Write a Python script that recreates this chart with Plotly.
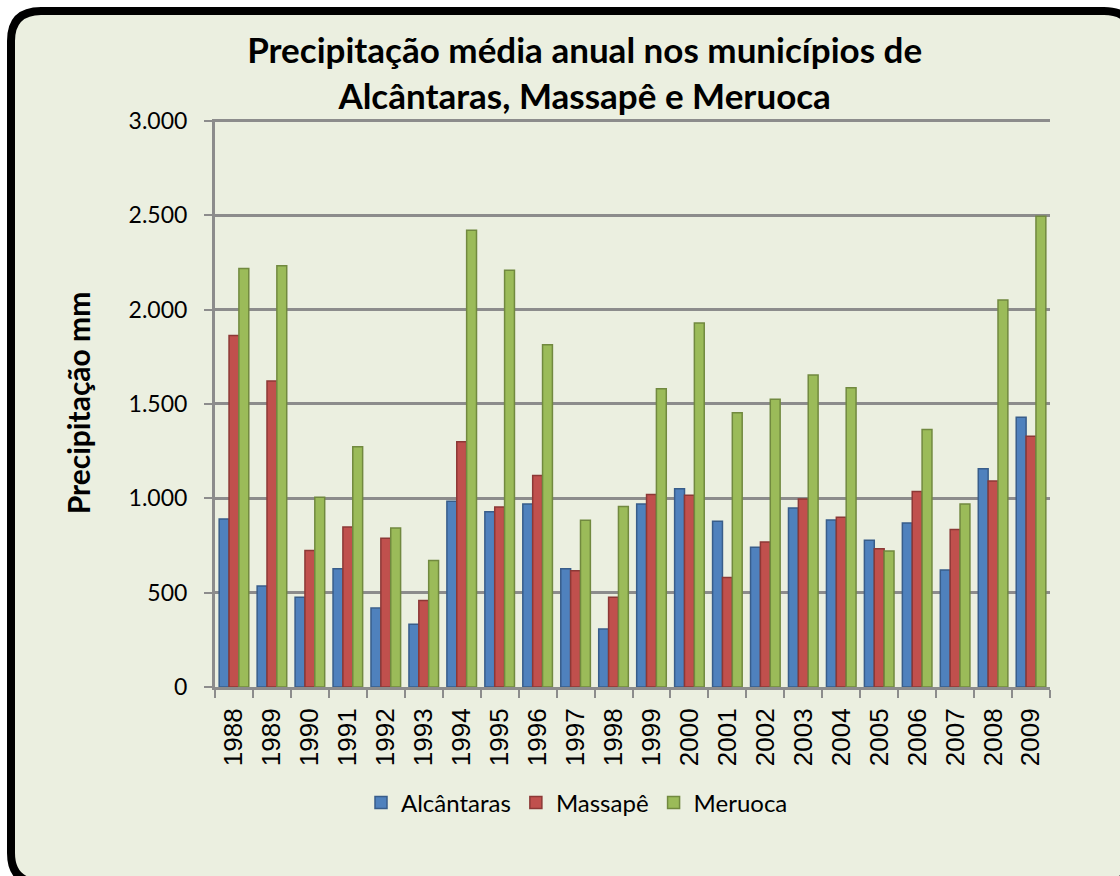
import plotly.graph_objects as go

ANOS = [str(a) for a in range(1988, 2010)]
ALCANTARAS = [890, 535, 475, 626, 418, 333, 984, 929, 970, 626, 307,
              970, 1051, 879, 741, 949, 885, 778, 869, 620, 1156, 1430]
MASSAPE = [1863, 1622, 723, 848, 788, 459, 1299, 954, 1121, 616, 475,
           1020, 1016, 580, 768, 996, 899, 733, 1036, 834, 1091, 1329]
MERUOCA = [2218, 2232, 1006, 1273, 842, 671, 2420, 2208, 1814, 883, 956,
           1580, 1929, 1453, 1525, 1653, 1586, 721, 1364, 970, 2051, 2495]
Y_TICKS = [0, 500, 1000, 1500, 2000, 2500, 3000]

SERIES = [
    ("Alcântaras", ALCANTARAS, "#4F81BD", "#385D8A"),
    ("Massapê", MASSAPE, "#C0504D", "#8C3836"),
    ("Meruoca", MERUOCA, "#9BBB59", "#71893F"),
]

W, H = 1120, 876
L, R, T, B = 215, 70, 119, 189
PW, PH = W - L - R, H - T - B


def px(x):
    return (x - L) / PW


def py(y):
    return (H - B - y) / PH


FONT = "Lato, 'Open Sans', Arial, sans-serif"
GRID = "#8C8C8C"
BG = "#EBEFE0"

fig = go.Figure()
for name, vals, color, edge in SERIES:
    fig.add_trace(go.Bar(
        name=name,
        x=ANOS,
        y=vals,
        marker=dict(color=color, line=dict(color=edge, width=1.5)),
    ))

# moldura arredondada (lados direito/inferior ficam fora da imagem)
x0, x1 = px(11), px(1134)
y0, y1 = py(11), py(883)
rx, ry = 30 / PW, 30 / PH
path = (
    f"M {x0 + rx},{y0} L {x1 - rx},{y0} Q {x1},{y0} {x1},{y0 - ry} "
    f"L {x1},{y1 + ry} Q {x1},{y1} {x1 - rx},{y1} "
    f"L {x0 + rx},{y1} Q {x0},{y1} {x0},{y1 + ry} "
    f"L {x0},{y0 - ry} Q {x0},{y0} {x0 + rx},{y0} Z"
)
fig.add_shape(
    type="path", path=path, xref="paper", yref="paper",
    fillcolor=BG, line=dict(color="black", width=8), layer="below",
)

fig.update_layout(
    width=W,
    height=H,
    margin=dict(l=L, r=R, t=T, b=B),
    paper_bgcolor="white",
    plot_bgcolor="rgba(0,0,0,0)",
    separators=",.",
    font=dict(family=FONT, size=23, color="black"),
    title=dict(
        text="<b>Precipitação média anual nos municípios de<br>Alcântaras, Massapê e Meruoca</b>",
        x=0.522,
        xanchor="center",
        y=0.928,
        yanchor="middle",
        font=dict(family=FONT, size=35, color="black"),
    ),
    barmode="group",
    bargap=0.22,
    bargroupgap=0.0,
    xaxis=dict(
        type="category",
        tickangle=-90,
        showline=True,
        linecolor=GRID,
        linewidth=3,
        ticks="outside",
        tickson="boundaries",
        ticklen=8,
        tickwidth=2,
        tickcolor=GRID,
        showgrid=False,
        ticklabelstandoff=8,
        tickfont=dict(family="Liberation Sans", size=26),
    ),
    yaxis=dict(
        range=[0, 3010],
        tickvals=Y_TICKS,
        tickformat=",d",
        showline=True,
        linecolor=GRID,
        linewidth=3,
        ticks="outside",
        ticklen=8,
        tickwidth=2,
        tickcolor=GRID,
        showgrid=True,
        gridcolor=GRID,
        gridwidth=3,
        zeroline=False,
        ticklabelstandoff=12,
        tickfont=dict(size=23),
        title=dict(
            text="<b>Precipitação mm</b>",
            font=dict(size=30),
            standoff=30,
        ),
    ),
    legend=dict(
        orientation="h",
        x=px(577),
        xanchor="center",
        y=py(803),
        yanchor="middle",
        font=dict(size=24),
        bgcolor="rgba(0,0,0,0)",
        itemwidth=30,
    ),
)

fig.write_html(
    "out.html",
    config={"displayModeBar": False},
    post_script="document.body.style.margin='0';",
)
